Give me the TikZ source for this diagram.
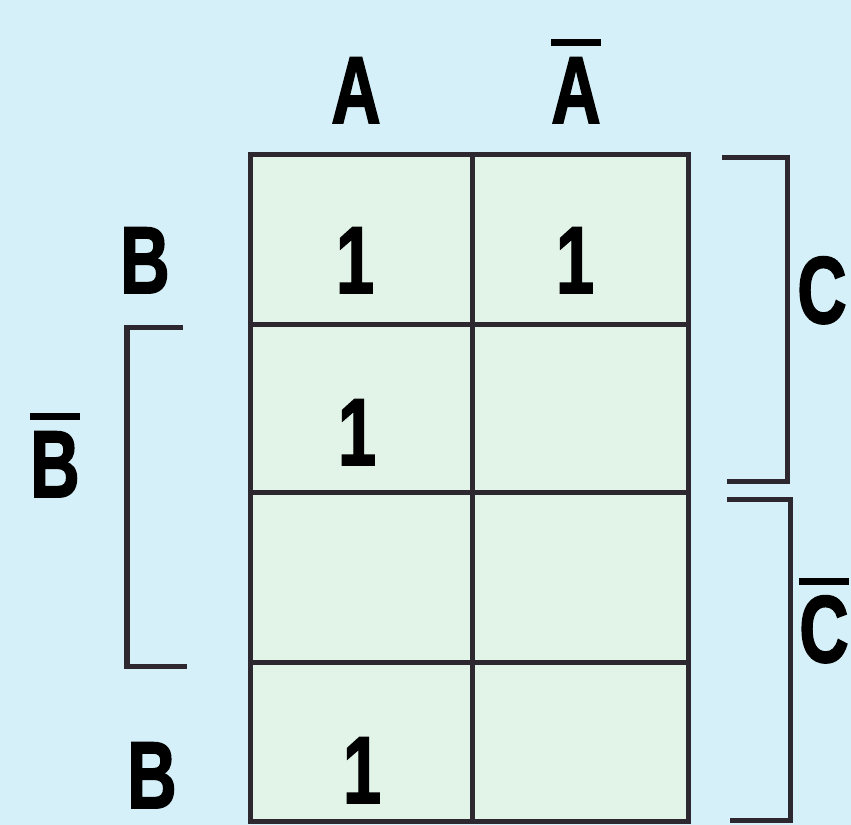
\documentclass[tikz,border=0pt]{standalone}
\usepackage{fontspec}
\setmainfont{Liberation Sans}
\newfontfamily\heavyfont[BoldFeatures={FakeBold=2}]{Liberation Sans}
\usepackage{graphicx}

\definecolor{paper}{RGB}{213,240,248}
\definecolor{cellfill}{RGB}{226,243,232}
\definecolor{ink}{RGB}{45,40,48}

\newcommand{\kfont}{\heavyfont\fontsize{27}{30}\selectfont\bfseries}
\newcommand{\kt}[1]{\scalebox{0.72}[1]{\kfont #1}}
\newcommand{\kbar}[1]{\scalebox{0.72}[1]{\kfont\sbox0{#1}\rlap{\rule[0.81em]{\wd0}{0.07em}}\usebox0}}

\begin{document}
\begin{tikzpicture}[x=0.01cm,y=-0.01cm,
  lbl/.style={inner sep=0pt,anchor=base,text=black},
  gridline/.style={draw=ink,line width=0.05cm},
  brace/.style={draw=ink,line width=0.05cm,line join=miter}]

\fill[paper] (0,0) rectangle (851,825);
\useasboundingbox (0,0) rectangle (851,825);

% cells
\fill[cellfill] (250,155) rectangle (688,822);
\draw[gridline] (250,155) rectangle (688,822);
\draw[gridline] (472,155) -- (472,822);
\draw[gridline] (250,325) -- (688,325);
\draw[gridline] (250,493) -- (688,493);
\draw[gridline] (250,663) -- (688,663);

% column labels
\node[lbl] (lblA) at (356,123) {\kt{A}};
\node[lbl] (lblAbar) at (576,123) {\kbar{A}};

% row labels
\node[lbl] (lblBtop) at (145,293) {\kt{B}};
\node[lbl] (lblBbar) at (55,497) {\kbar{B}};
\node[lbl] (lblBbot) at (152,808) {\kt{B}};

% right labels
\node[lbl] (lblC) at (822,323) {\kt{C}};
\node[lbl] (lblCbar) at (824,662) {\kbar{C}};

% entries
\node[lbl] (oneAa) at (355,293) {\kt{1}};
\node[lbl] (oneAbara) at (575,293) {\kt{1}};
\node[lbl] (oneAb) at (357,465) {\kt{1}};
\node[lbl] (oneAd) at (362,803) {\kt{1}};

% brackets
\draw[brace] (722,158) -- (787,158) -- (787,482) -- (727,482);
\draw[brace] (727,500) -- (790,500) -- (790,821) -- (730,821);
\draw[brace] (183,328) -- (127,328) -- (127,667) -- (187,667);

\end{tikzpicture}
\end{document}
